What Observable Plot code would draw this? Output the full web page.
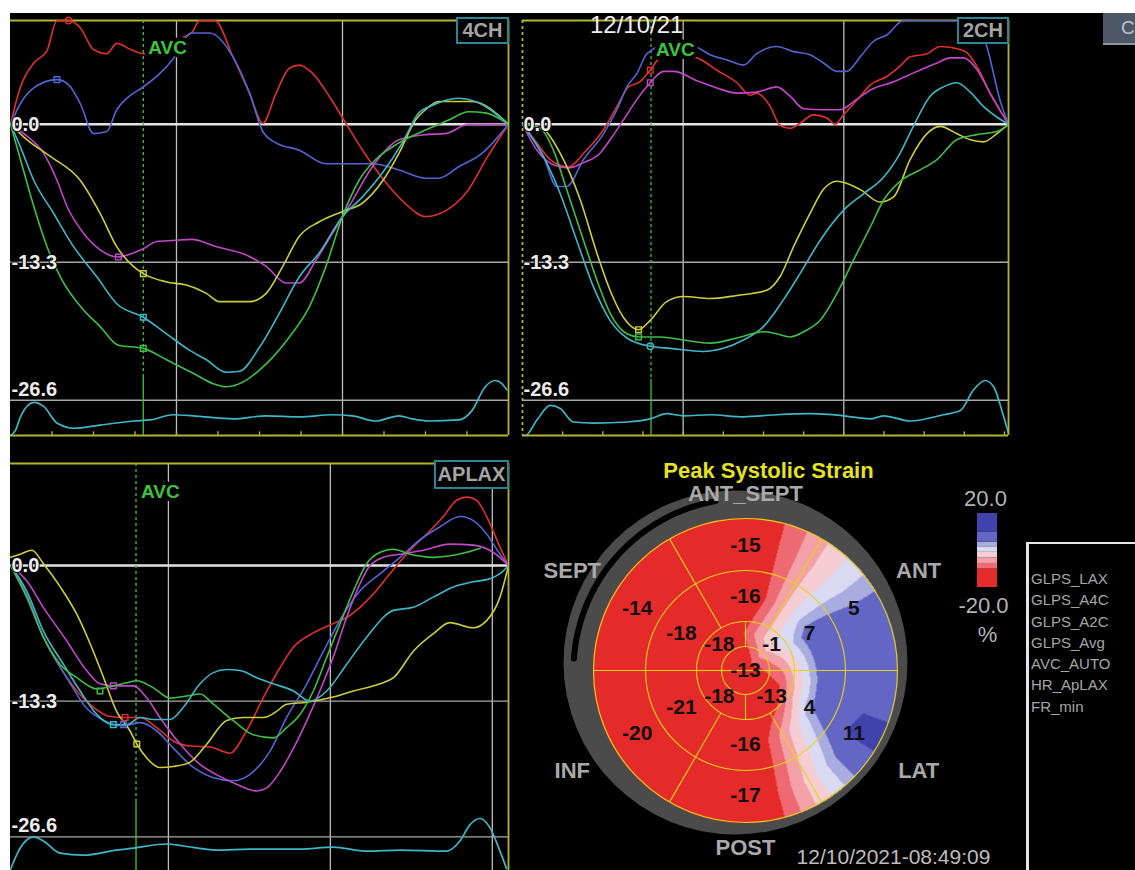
<!DOCTYPE html>
<html><head><meta charset="utf-8">
<script src="https://cdn.jsdelivr.net/npm/d3@7"></script>
<script src="https://cdn.jsdelivr.net/npm/@observablehq/plot@0.6"></script>
<style>
html,body{margin:0;padding:0;background:#fff;}
#stage{position:relative;width:1135px;height:870px;overflow:hidden;background:#fff;font-family:"Liberation Sans",Arial,sans-serif;}
.abs{position:absolute;}
.tag{position:absolute;border:2px solid #2b8593;color:#a4a4a4;font-weight:bold;font-size:20px;text-align:center;box-sizing:border-box;background:#000;}
.lg{color:#a6a6a6;font-size:15px;line-height:21.3px;white-space:nowrap;}
</style></head><body>
<div id="stage">
  <div class="abs" style="left:10px;top:13px;width:1125px;height:857px;background:#000"></div>
  <div id="p1" class="abs" style="left:10px;top:13px;width:502px;height:427px"></div>
  <div id="p2" class="abs" style="left:516px;top:13px;width:500px;height:427px"></div>
  <div id="p3" class="abs" style="left:10px;top:455px;width:502px;height:415px"></div>
  <div id="bull" class="abs" style="left:516px;top:455px;width:500px;height:415px"></div>
  <div class="tag" style="left:456px;top:17px;width:53px;height:27px;line-height:23px">4CH</div>
  <div class="tag" style="left:957px;top:17px;width:52px;height:27px;line-height:23px">2CH</div>
  <div class="tag" style="left:434px;top:460px;width:75px;height:29px;line-height:25px">APLAX</div>
  <div class="abs" style="left:590px;top:12px;color:#eeeeee;font-size:24px;line-height:26px">12/10/21</div>
  <div class="abs" style="left:1103px;top:13px;width:32px;height:32px;background:#4d5765;border-bottom:2px solid #8c96a2;box-sizing:border-box;color:#b9c6d4;font-size:19px;line-height:30px;padding-left:18px;overflow:hidden;white-space:nowrap">Cl</div>
  <div id="legendBox" class="abs" style="left:1026px;top:542px;width:120px;height:340px;border-left:3px solid #e6e6e6;border-top:2px solid #e6e6e6;padding-top:24px;padding-left:2px;box-sizing:border-box"></div>
</div>
<script>
// ---------------- DATA ----------------
const legendItems = ["GLPS_LAX","GLPS_A4C","GLPS_A2C","GLPS_Avg","AVC_AUTO","HR_ApLAX","FR_min"];
const yTickValues = [0, -13.3, -26.6];
const yTickLabels = ["0.0", "-13.3", "-26.6"];

// 4CH  (x = frame time units, y = strain %)
const ch4Red = [[0,0],[0.24,3.6],[0.56,5.9],[0.88,7.1],[1.12,10],[1.4,10],[1.68,9.3],[2,7.2],[2.32,6.8],[2.56,7.8],[2.9,7.2],[3.2,6.8],[3.7,7.8],[4.36,8.8],[4.56,10],[4.92,10],[5.36,6.5],[5.76,3.0],[6.08,0.1],[6.4,3.0],[6.72,5.4],[6.96,5.7],[7.28,4.9],[7.68,2.7],[8.08,0.1],[8.5,-2.6],[9,-5.4],[9.5,-7.6],[10,-8.9],[10.5,-8.3],[11,-6.5],[11.5,-3.1],[12,0]];
const ch4Blue = [[0,0],[0.24,2.0],[0.56,3.5],[1.12,4.3],[1.4,3.8],[1.68,2.0],[2,-0.9],[2.32,-0.7],[2.56,1.4],[2.8,2.5],[3.2,3.6],[3.6,4.9],[3.92,6.3],[4.36,8.8],[4.8,8.8],[5.36,6.5],[5.76,3.0],[6.08,-0.7],[6.4,-1.8],[6.96,-2.5],[7.6,-3.8],[8.08,-3.8],[8.72,-3.8],[9.36,-4.4],[10,-5.2],[10.32,-5.2],[10.8,-4.1],[11.36,-2.8],[12,0]];
const ch4Yellow = [[0,0],[0.4,-1.5],[0.96,-3.1],[1.68,-5.4],[2.16,-8.6],[2.56,-11.8],[2.96,-13.7],[3.2,-14.4],[3.76,-15.2],[4.24,-15.5],[4.72,-16.3],[5.04,-17.1],[5.76,-17.1],[6.16,-16.3],[6.56,-13.7],[6.96,-10.8],[7.44,-9.4],[8,-8.4],[8.48,-7.6],[8.96,-5.5],[9.36,-2.8],[9.76,0.4],[10,1.4],[10.32,2.2],[11.12,2.2],[12,0]];
const ch4Magenta = [[0,0],[0.32,-0.9],[0.8,-2.8],[1.12,-5.4],[1.36,-7.9],[1.76,-10.5],[2.16,-12.1],[2.6,-12.8],[2.96,-12.4],[3.2,-12.0],[3.52,-11.3],[3.92,-11.2],[4.36,-11.1],[4.96,-11.8],[5.68,-12.6],[6.16,-13.7],[6.64,-15.3],[6.96,-15.3],[7.36,-13.1],[7.76,-10.5],[8.16,-7.9],[8.72,-4.1],[9.36,-1.5],[10,-1.0],[10.48,-0.9],[11.04,0],[12,0]];
const ch4Cyan = [[0,0],[0.24,-2.2],[0.56,-5.4],[1.04,-8.6],[1.52,-11.8],[2.08,-14.7],[2.56,-17.3],[3.2,-18.6],[3.76,-20.2],[4.32,-21.8],[4.72,-22.7],[5.2,-23.9],[5.52,-23.8],[6,-21.5],[6.48,-18.2],[6.96,-14.7],[7.44,-12.4],[8,-8.9],[8.48,-7.0],[8.96,-4.7],[9.44,-1.8],[9.84,1.1],[10.16,1.8],[10.8,2.5],[11.2,2.2],[12,0]];
const ch4Green = [[0,0],[0.24,-3.4],[0.56,-7.9],[0.88,-11.8],[1.2,-14.7],[1.76,-17.9],[2.16,-19.5],[2.6,-21.3],[3.2,-21.6],[3.76,-22.7],[4.4,-24.0],[4.88,-25.0],[5.2,-25.3],[5.52,-25.0],[6.16,-23.1],[6.72,-20.5],[7.2,-17.6],[7.6,-13.7],[8,-8.9],[8.4,-5.4],[8.8,-3.4],[9.36,-1.8],[9.92,-0.7],[10.56,0.4],[11.04,1.2],[11.44,1.1],[12,0]];
const ch4Ecg = [[0,-30],[0.12,-29.5],[0.24,-28.2],[0.56,-26.8],[0.8,-27.2],[1.12,-28.8],[1.52,-29.3],[2.16,-29.0],[2.96,-28.6],[3.36,-28.5],[3.92,-28.0],[4.4,-28.1],[5.36,-28.4],[6.16,-28.1],[6.96,-28.2],[7.76,-28.0],[8.24,-28.1],[8.8,-28.6],[9.36,-28.1],[9.68,-28.4],[10.08,-28.6],[10.8,-28.5],[11.12,-27.6],[11.44,-25.3],[11.68,-24.7],[11.84,-25.0],[11.96,-25.6]];
const ch4Markers = [{k:"red",s:"circle",u:1.4,v:10},{k:"blue",s:"square",u:1.12,v:4.3},{k:"magenta",s:"square",u:2.6,v:-12.8},{k:"yellow",s:"square",u:3.2,v:-14.4},{k:"cyan",s:"square",u:3.2,v:-18.6},{k:"green",s:"square",u:3.2,v:-21.6}];
const ch4Ticks = [1,2,3,4,5,6,7,8,9,10,11];

// 2CH
const ch2Blue = [[0,0],[0.52,-3.1],[0.85,-6.0],[1.1,-6.0],[1.52,-3.4],[2.02,-0.9],[2.35,1.4],[2.6,3.6],[2.85,4.9],[3.1,6.8],[3.68,7.8],[4.3,7.5],[4.67,6.7],[5.09,6.2],[5.5,5.7],[5.83,6.8],[6.33,7.5],[6.75,7.0],[7.16,6.7],[7.49,5.9],[7.83,5.1],[8.07,5.1],[8.41,6.5],[8.74,8.0],[9.07,8.6],[9.49,10],[11.3,10],[11.56,7.5],[11.89,2.3],[12.1,0]];
const ch2Red = [[0,0],[0.36,-1.8],[0.69,-3.4],[1.15,-4.1],[1.52,-2.8],[2.02,-0.5],[2.35,1.7],[2.64,3.6],[2.93,4.1],[3.18,5.2],[3.43,6.4],[3.88,6.6],[4.34,6.4],[4.84,5.2],[5.34,4.0],[5.67,2.8],[5.83,3.0],[6.17,1.7],[6.41,-0.1],[6.66,-0.4],[6.91,0.1],[7.24,0.9],[7.58,0.6],[7.78,0],[7.99,0.9],[8.41,2.7],[8.66,3.8],[9.07,4.6],[9.4,5.6],[9.65,6.5],[10.07,6.8],[10.4,7.5],[10.9,7.2],[11.06,6.9],[11.31,5.6],[11.64,3.0],[12.1,0]];
const ch2Magenta = [[0,0],[0.36,-2.5],[0.77,-3.9],[1.15,-4.2],[1.52,-3.7],[1.93,-2.8],[2.18,-1.5],[2.51,0.4],[2.85,2.4],[3.18,4.0],[3.51,5.1],[3.76,5.1],[4.34,4.2],[4.84,3.5],[5.34,3.0],[5.83,3.1],[6.33,3.6],[6.66,2.7],[7.0,1.5],[7.49,1.4],[7.91,1.4],[8.32,2.4],[8.66,3.3],[9.24,4.1],[9.65,4.8],[10.32,5.9],[10.65,6.4],[10.98,6.4],[11.31,5.3],[11.64,3.0],[12.1,0]];
const ch2Yellow = [[0,0],[0.52,-0.5],[0.94,-2.8],[1.44,-7.3],[1.85,-12.4],[2.18,-16.0],[2.51,-18.6],[2.89,-19.8],[3.18,-18.9],[3.59,-17.1],[4.01,-16.6],[4.67,-16.8],[5.34,-16.5],[6.08,-16.0],[6.41,-14.7],[6.75,-11.8],[7.16,-8.6],[7.49,-6.3],[7.83,-5.5],[8.41,-6.3],[8.9,-7.5],[9.24,-7.0],[9.65,-3.4],[10.07,-0.9],[10.4,-0.2],[10.81,-0.9],[11.15,-1.5],[11.48,-1.7],[11.81,-0.9],[12.1,0]];
const ch2Cyan = [[0,0],[0.52,-3.1],[0.94,-6.7],[1.35,-11.2],[1.77,-15.7],[2.18,-18.9],[2.6,-20.6],[3.18,-21.4],[3.68,-21.6],[4.51,-21.9],[5.0,-21.6],[5.5,-20.8],[6.0,-19.5],[6.5,-16.9],[6.91,-14.4],[7.41,-11.2],[7.99,-8.3],[8.49,-6.7],[8.99,-5.1],[9.4,-2.8],[9.73,-0.2],[10.15,2.7],[10.48,3.6],[10.81,4.0],[11.15,3.1],[11.48,1.7],[11.81,0.7],[12.1,0]];
const ch2Green = [[0,0],[0.44,-0.4],[0.77,-2.5],[1.1,-6.3],[1.52,-11.2],[1.85,-15.0],[2.18,-18.2],[2.6,-20.2],[2.89,-20.5],[3.43,-20.5],[4.01,-20.8],[4.67,-21.1],[5.34,-20.6],[6.0,-20.0],[6.33,-20.2],[6.66,-20.5],[7.0,-20.0],[7.41,-18.9],[7.83,-16.3],[8.24,-13.1],[8.66,-9.9],[8.99,-7.3],[9.4,-5.5],[9.9,-4.4],[10.32,-3.4],[10.81,-1.5],[11.31,-1.0],[11.81,-0.7],[12.1,0]];
const ch2Ecg = [[0,-30],[0.07,-30],[0.36,-28.5],[0.69,-27.1],[0.94,-27.4],[1.27,-28.7],[1.77,-28.8],[2.6,-28.7],[3.18,-28.4],[3.59,-27.9],[4.01,-28.1],[4.67,-28.0],[5.5,-28.2],[6.33,-28.0],[7.16,-27.9],[7.99,-28.1],[8.66,-28.4],[8.99,-28.1],[9.65,-28.6],[10.48,-28.0],[10.9,-27.6],[11.23,-25.6],[11.52,-24.7],[11.73,-25.3],[11.98,-28.2],[12.1,-29.8]];
const ch2Markers = [{k:"red",s:"square",u:3.18,v:5.2},{k:"magenta",s:"square",u:3.18,v:4.0},{k:"yellow",s:"square",u:2.89,v:-19.8},{k:"green",s:"square",u:2.89,v:-20.5},{k:"cyan",s:"circle",u:3.18,v:-21.4}];
const ch2Ticks = [1,2,3,4,5,6,7,8,9,10,11,12];

// APLAX
const apRed = [[0.1,0],[0.5,-3.1],[0.91,-7.0],[1.33,-10.0],[1.74,-12.3],[2.15,-13.9],[2.56,-14.8],[2.93,-14.9],[3.3,-14.9],[3.71,-15.9],[4.12,-17.2],[4.53,-17.7],[5.03,-17.8],[5.52,-18.4],[5.93,-16.2],[6.35,-12.9],[6.76,-10.0],[7.09,-8.0],[7.58,-6.6],[8.07,-5.7],[8.4,-5.1],[8.73,-4.1],[9.06,-2.8],[9.47,-0.8],[9.97,1.5],[10.46,3.4],[10.79,4.8],[11.12,6.4],[11.37,6.7],[11.61,6.4],[11.86,4.8],[12.19,1.8],[12.4,0]];
const apBlue = [[0.1,0],[0.5,-2.8],[0.91,-7.0],[1.49,-11.0],[1.98,-14.0],[2.31,-15.0],[2.64,-15.6],[2.89,-15.7],[3.3,-15.4],[3.71,-16.2],[4.12,-17.9],[4.62,-19.8],[5.11,-20.8],[5.6,-21.1],[6.1,-20.2],[6.51,-18.2],[6.92,-14.9],[7.42,-11.6],[7.83,-8.4],[8.32,-4.8],[8.73,-2.5],[9.23,-0.8],[9.72,0.8],[10.21,2.5],[10.71,3.8],[11.2,4.8],[11.53,4.4],[11.86,3.1],[12.19,1.1],[12.4,0]];
const apYellow = [[0.1,0.8],[0.34,1.1],[0.63,1.5],[0.91,0.2],[1.33,-2.1],[1.74,-4.8],[2.07,-7.7],[2.4,-11.0],[2.72,-14.3],[3.05,-16.2],[3.22,-17.5],[3.47,-18.9],[3.79,-19.8],[4.12,-19.7],[4.53,-19.3],[4.95,-17.5],[5.44,-15.2],[5.85,-14.9],[6.35,-14.9],[6.67,-14.3],[6.92,-13.6],[7.42,-13.4],[8.07,-12.9],[8.57,-12.3],[9.23,-11.6],[9.56,-11.0],[10.05,-8.4],[10.54,-6.7],[10.95,-5.6],[11.53,-6.1],[11.86,-5.4],[12.19,-3.1],[12.4,0]];
const apMagenta = [[0.1,0],[0.5,-1.5],[0.91,-4.1],[1.49,-7.4],[1.98,-10.3],[2.31,-11.6],[2.64,-11.8],[3.14,-11.8],[3.47,-13.0],[3.79,-14.9],[4.29,-17.5],[4.78,-19.5],[5.28,-20.7],[5.77,-21.6],[6.18,-22.1],[6.43,-21.8],[6.76,-20.2],[7.09,-17.9],[7.42,-15.2],[7.74,-12.3],[8.07,-9.0],[8.4,-5.1],[8.73,-1.8],[8.98,0],[9.31,0.8],[9.72,1.1],[10.3,1.5],[10.95,2.1],[11.53,2.0],[12.02,1.3],[12.4,0]];
const apCyan = [[0.1,0],[0.5,-2.5],[0.91,-6.4],[1.41,-9.7],[1.82,-12.3],[2.23,-14.6],[2.64,-15.6],[2.97,-15.6],[3.3,-14.9],[3.63,-15.1],[4.04,-15.1],[4.37,-13.9],[4.78,-11.6],[5.11,-10.5],[5.44,-10.2],[5.77,-10.3],[6.18,-11.0],[6.59,-11.6],[7.09,-12.3],[7.5,-13.3],[7.91,-12.3],[8.4,-9.7],[8.9,-7.0],[9.56,-4.4],[10.05,-4.1],[10.54,-3.1],[11.04,-2.1],[11.53,-1.6],[11.94,-1.3],[12.19,-0.8],[12.4,0]];
const apGreen = [[0.1,0],[0.5,-3.1],[0.91,-7.0],[1.33,-9.7],[1.74,-11.0],[2.23,-12.1],[2.64,-11.8],[2.97,-11.5],[3.22,-11.3],[3.63,-12.0],[4.04,-13.0],[4.45,-12.8],[4.78,-12.6],[5.11,-13.6],[5.6,-15.2],[6.1,-16.6],[6.59,-16.9],[6.92,-15.9],[7.25,-14.6],[7.58,-12.3],[7.91,-9.0],[8.24,-5.7],[8.57,-2.5],[8.9,0.2],[9.23,1.3],[9.56,1.6],[9.97,1.1],[10.54,0.8],[11.04,1.0],[11.37,1.3],[11.7,1.7]];
const apEcg = [[0.1,-29.8],[0.34,-27.7],[0.67,-26.6],[0.91,-27.0],[1.33,-28.2],[1.9,-28.4],[2.72,-27.9],[3.14,-27.7],[3.96,-27.3],[4.37,-27.5],[5.19,-27.9],[6.02,-27.8],[7.25,-27.8],[8.07,-27.6],[8.9,-28.0],[9.72,-27.9],[10.87,-28.0],[11.2,-27.0],[11.45,-25.4],[11.7,-24.8],[11.94,-25.7],[12.19,-28.0],[12.35,-29.7]];
const apMarkers = [{k:"green",s:"square",u:2.31,v:-12.3},{k:"magenta",s:"square",u:2.64,v:-11.8},{k:"red",s:"square",u:2.93,v:-14.9},{k:"cyan",s:"square",u:2.64,v:-15.6},{k:"blue",s:"square",u:2.89,v:-15.6},{k:"yellow",s:"square",u:3.22,v:-17.5}];

// Bullseye: peak systolic strain per segment
const basalNames = ["ANT_SEPT","ANT","LAT","POST","INF","SEPT"];
const segmentAngles = [90, 30, -30, -90, -150, 150];
const basalValues = [-15, 5, 11, -17, -20, -14];
const midValues = [-16, 7, 4, -16, -21, -18];
const apicalAngles = [45, -45, -135, 135];
const apicalValues = [-1, -13, -18, -18];
const apexValue = -13;
const strainThresholds = [-10, -7, -4, -1, 2, 4.5, 10];
const strainColors = ["#e52a2a","#ee6a72","#f3a0a7","#f5cdd3","#d9d9f1","#a9acdf","#6466c6","#4143ad"];
const legendRange = [-20, 20];
const legendTickLabels = ["20.0", "-20.0", "%"];

// ---------------- STYLE ----------------
const lineColors = {red:"#e0302c", blue:"#5165d4", yellow:"#cdcd3a", magenta:"#c446ca", cyan:"#3db7c7", green:"#3fbf45"};
const frameYellow = "#b3b335", gridGray = "#bcbcbc", avcGreen = "#3cc43c";
const FONT = "Liberation Sans, Arial, sans-serif";

document.getElementById("legendBox").innerHTML = legendItems.map(t => `<div class="lg">${t}</div>`).join("");

function drawPanel(p) {
  const [y0, y1] = p.yDomain, [x0, x1] = p.xDomain;
  const rows = pts => pts.map(([u, v]) => ({u, v}));
  const marks = [
    Plot.ruleX(p.grid, {stroke: gridGray, strokeWidth: 1.3}),
    Plot.ruleY(yTickValues.slice(1), {stroke: "#a8a8a8", strokeWidth: 1.3}),
    Plot.ruleY([0], {stroke: "#e4e4e4", strokeWidth: 2.4}),
    Plot.ruleY([y1], {stroke: frameYellow, strokeWidth: 1.8}),
    Plot.ruleX([x1], {stroke: frameYellow, strokeWidth: 1.8})
  ];
  if (p.ticks) {
    marks.push(Plot.ruleY([y0], {stroke: frameYellow, strokeWidth: 1.8}));
    marks.push(Plot.ruleX(p.ticks, {y1: y0, y2: y0 + 0.35, stroke: frameYellow, strokeWidth: 1.4}));
  }
  if (p.leftDash) marks.push(Plot.ruleX([x0], {stroke: frameYellow, strokeWidth: 1.8, strokeDasharray: "3,3"}));
  marks.push(Plot.ruleX([p.avc], {y1: y1, y2: p.avcSolid, stroke: avcGreen, strokeWidth: 1.3, strokeDasharray: "3,3"}));
  marks.push(Plot.ruleX([p.avc], {y1: p.avcSolid, y2: y0, stroke: avcGreen, strokeWidth: 1.3}));
  marks.push(Plot.line(rows(p.ecg), {x: "u", y: "v", stroke: lineColors.cyan, strokeWidth: 1.7, curve: "monotone-x", clip: true}));
  for (const key of ["red", "blue", "magenta", "yellow", "cyan", "green"]) {
    marks.push(Plot.line(rows(p.series[key]), {x: "u", y: "v", stroke: lineColors[key], strokeWidth: 1.6, curve: "monotone-x", clip: true}));
  }
  for (const m of p.markers) {
    marks.push(Plot.dot([m], {x: "u", y: "v", symbol: m.s, r: 3.2, stroke: lineColors[m.k], strokeWidth: 1.4, fill: "none"}));
  }
  const txt = {x: x0, y: d => d, textAnchor: "start", dx: 1, fill: "#ececec", fontWeight: "bold", fontSize: 20, fontFamily: FONT, stroke: "#000", strokeWidth: 2, paintOrder: "stroke"};
  marks.push(Plot.text(yTickValues.slice(0, 2), {...txt, text: (d, i) => yTickLabels[i]}));
  marks.push(Plot.text(yTickValues.slice(2), {...txt, text: () => yTickLabels[2], dy: -11}));
  marks.push(Plot.text(["AVC"], {x: p.avc, y: y1, text: d => d, dx: 5, dy: p.avcDy, textAnchor: "start", fill: avcGreen, stroke: "#000", strokeWidth: 8, paintOrder: "stroke", fontWeight: "bold", fontSize: 19, fontFamily: FONT}));
  const svg = Plot.plot({
    width: p.width, height: p.height,
    marginLeft: p.ml, marginRight: p.mr, marginTop: p.mt, marginBottom: p.mb,
    x: {domain: p.xDomain, axis: null}, y: {domain: p.yDomain, axis: null},
    style: {background: "transparent", overflow: "visible", fontFamily: FONT, maxWidth: "none"},
    marks
  });
  document.getElementById(p.id).appendChild(svg);
}

drawPanel({id: "p1", width: 502, height: 427, ml: 0, mr: 4, mt: 7, mb: 5, xDomain: [0, 12], yDomain: [-30, 10],
  grid: [4, 8], ticks: ch4Ticks, avc: 3.2, avcSolid: -24.4, avcDy: 27,
  series: {red: ch4Red, blue: ch4Blue, yellow: ch4Yellow, magenta: ch4Magenta, cyan: ch4Cyan, green: ch4Green},
  ecg: ch4Ecg, markers: ch4Markers});
drawPanel({id: "p2", width: 500, height: 427, ml: 6, mr: 8, mt: 7, mb: 5, xDomain: [0, 12.1], yDomain: [-30, 10],
  grid: [4, 8], ticks: ch2Ticks, leftDash: true, avc: 3.2, avcSolid: -24.6, avcDy: 29,
  series: {red: ch2Red, blue: ch2Blue, yellow: ch2Yellow, magenta: ch2Magenta, cyan: ch2Cyan, green: ch2Green},
  ecg: ch2Ecg, markers: ch2Markers});
drawPanel({id: "p3", width: 502, height: 415, ml: 0, mr: 4, mt: 8, mb: 0, xDomain: [0.1, 12.4], yDomain: [-29.9, 10],
  grid: [4, 8, 12], ticks: null, avc: 3.2, avcSolid: -23.2, avcDy: 28,
  series: {red: apRed, blue: apBlue, yellow: apYellow, magenta: apMagenta, cyan: apCyan, green: apGreen},
  ecg: apEcg, markers: apMarkers});

// ---------------- BULLSEYE ----------------
const RAD = Math.PI / 180;
const polar = (r, a) => ({x: r * Math.cos(a * RAD), y: r * Math.sin(a * RAD)});
const R_APEX = 24, R_APICAL = 49, R_MID = 100, R_OUT = 152;
const C_APICAL = 37, C_MID = 74, C_BASAL = 125;

function ringValue(vals, start, step, th) {
  const n = vals.length;
  let p = ((start - th) / step) % n; if (p < 0) p += n;
  const k = Math.floor(p), t = p - k;
  return vals[k] * (1 - t) + vals[(k + 1) % n] * t;
}
function strainAt(x, y) {
  const r = Math.hypot(x, y);
  if (r > R_OUT + 0.5) return NaN;
  const th = Math.atan2(y, x) / RAD;
  const a = ringValue(apicalValues, 45, 90, th);
  const m = ringValue(midValues, 90, 60, th);
  const b = ringValue(basalValues, 90, 60, th);
  if (r < C_APICAL) return apexValue + (a - apexValue) * r / C_APICAL;
  if (r < C_MID) return a + (m - a) * (r - C_APICAL) / (C_MID - C_APICAL);
  if (r < C_BASAL) return m + (b - m) * (r - C_MID) / (C_BASAL - C_MID);
  return b;
}

const ringLinks = [
  ...[0, 60, 120, 180, 240, 300].map(a => ({a, r0: R_APICAL, r1: R_OUT})),
  ...[0, 90, 180, 270].map(a => ({a, r0: R_APEX, r1: R_APICAL})),
  ...[0, 180].map(a => ({a, r0: 0, r1: R_APEX}))
];
const valueLabels = [
  ...segmentAngles.map((a, i) => ({...polar(C_BASAL, a), t: String(basalValues[i])})),
  ...segmentAngles.map((a, i) => ({...polar(C_MID, a), t: String(midValues[i])})),
  ...apicalAngles.map((a, i) => ({...polar(C_APICAL, a), t: String(apicalValues[i])})),
  {x: 0, y: 0, t: String(apexValue)}
];
const regionLabels = segmentAngles.map((a, i) => ({...polar(Math.abs(Math.sin(a * RAD)) > 0.9 ? 177 : 200, a), t: basalNames[i]}));
const gapArc = d3.range(100, 177, 1).map(a => polar(172, a));
const bandEdges = [legendRange[0], ...strainThresholds, legendRange[1]];
const legendBands = bandEdges.slice(0, -1).map((lo, i) => ({lo, hi: bandEdges[i + 1]}));
const barY = v => 83 + (v - legendRange[0]) / (legendRange[1] - legendRange[0]) * 74;

const bull = Plot.plot({
  width: 500, height: 415, margin: 0,
  x: {domain: [-229, 271], axis: null}, y: {domain: [-200, 215], axis: null},
  color: {type: "threshold", domain: strainThresholds, range: strainColors},
  style: {background: "transparent", overflow: "visible", fontFamily: FONT, maxWidth: "none"},
  marks: [
    Plot.dot([{x: -10, y: 8}], {x: "x", y: "y", r: 172, fill: "#4b4b4b", stroke: "none"}),
    Plot.line(gapArc, {x: "x", y: "y", stroke: "#000", strokeWidth: 6, strokeLinecap: "round"}),
    Plot.raster({fill: strainAt, x1: -R_OUT - 1, x2: R_OUT + 1, y1: -R_OUT - 1, y2: R_OUT + 1, pixelSize: 1}),
    ...[R_APEX, R_APICAL, R_MID, R_OUT].map(R => Plot.dot([{x: 0, y: 0}], {x: "x", y: "y", r: R, fill: "none", stroke: "#e6d21a", strokeWidth: 1.1})),
    Plot.link(ringLinks, {x1: d => polar(d.r0, d.a).x, y1: d => polar(d.r0, d.a).y, x2: d => polar(d.r1, d.a).x, y2: d => polar(d.r1, d.a).y, stroke: "#e6d21a", strokeWidth: 1.1}),
    Plot.text(valueLabels, {x: "x", y: "y", text: "t", fill: "#111", fontWeight: "bold", fontSize: 21, fontFamily: FONT}),
    Plot.text(regionLabels, {x: "x", y: "y", text: "t", fill: "#a9a9a9", fontWeight: "bold", fontSize: 22, fontFamily: FONT}),
    Plot.text(["Peak Systolic Strain"], {x: 23, y: 200, text: d => d, fill: "#e6e21c", fontWeight: "bold", fontSize: 22, fontFamily: FONT}),
    Plot.text(["12/10/2021-08:49:09"], {x: 148, y: -187, text: d => d, fill: "#bdbdbd", fontSize: 21, fontFamily: FONT}),
    Plot.rect(legendBands, {x1: 232, x2: 252, y1: d => barY(d.lo), y2: d => barY(d.hi), fill: d => (d.lo + d.hi) / 2}),
    Plot.text([legendTickLabels[0]], {x: 240, y: 172, text: d => d, fill: "#b4b4b4", fontSize: 22, fontFamily: FONT}),
    Plot.text([legendTickLabels[1]], {x: 238, y: 65, text: d => d, fill: "#b4b4b4", fontSize: 22, fontFamily: FONT}),
    Plot.text([legendTickLabels[2]], {x: 242, y: 36, text: d => d, fill: "#b4b4b4", fontSize: 22, fontFamily: FONT})
  ]
});
document.getElementById("bull").appendChild(bull);
</script>
</body></html>
